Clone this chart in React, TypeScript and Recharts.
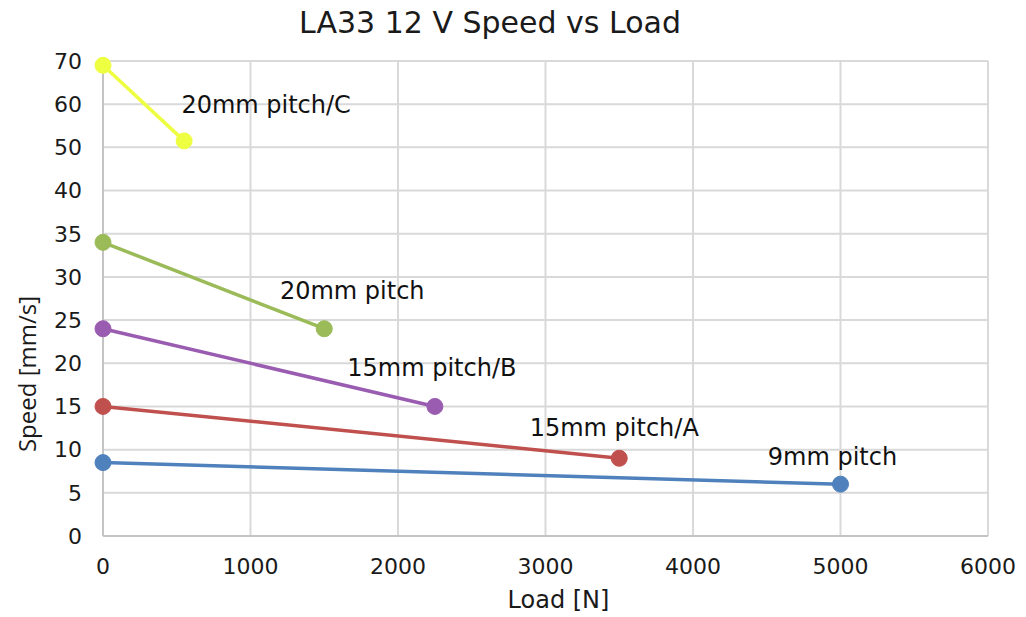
import { CartesianGrid, Label, Line, LineChart, XAxis, YAxis } from "recharts"

// load [N] and speed [mm/s]
const pitch9Load = [0, 5000]
const pitch9Speed = [8.5, 6]
const pitch15aLoad = [0, 3500]
const pitch15aSpeed = [15, 9]
const pitch15bLoad = [0, 2250]
const pitch15bSpeed = [24, 15]
const pitch20Load = [0, 1500]
const pitch20Speed = [34, 24]
const pitch20cLoad = [0, 550]
const pitch20cSpeed = [69, 51.5]

const xTicks = [0, 1000, 2000, 3000, 4000, 5000, 6000]
// the speed axis is broken: steps of 5 up to 40, then steps of 10
const yTickLabels = [0, 5, 10, 15, 20, 25, 30, 35, 40, 50, 60, 70]

const FONT = "'DejaVu Sans', 'Open Sans', sans-serif"

// maps a speed to its slot on the broken axis
const toSlot = (v: number) => (v <= 40 ? v / 5 : 8 + (v - 40) / 10)

const build = (loads: number[], speeds: number[]) =>
  loads.map((load, i) => ({ load, slot: toSlot(speeds[i]) }))

const series = [
  { name: "9mm pitch", data: build(pitch9Load, pitch9Speed), color: "#4F81BD", dx: -8, dy: -27 },
  { name: "15mm pitch/A", data: build(pitch15aLoad, pitch15aSpeed), color: "#C0504D", dx: -5, dy: -30 },
  { name: "15mm pitch/B", data: build(pitch15bLoad, pitch15bSpeed), color: "#9A5CB0", dx: -3, dy: -38 },
  { name: "20mm pitch", data: build(pitch20Load, pitch20Speed), color: "#9BBB59", dx: 28, dy: -38 },
  { name: "20mm pitch/C", data: build(pitch20cLoad, pitch20cSpeed), color: "#EEFF41", dx: 82, dy: -36 },
]

export default function App() {
  return (
    <div style={{ position: "absolute", left: 0, top: 0, width: 1026, height: 617, fontFamily: FONT }}>
      <div
        style={{
          position: "absolute",
          left: 0,
          width: 980,
          top: 5,
          textAlign: "center",
          fontSize: 30,
          color: "#1a1a1a",
        }}
      >
        LA33 12 V Speed vs Load
      </div>
      <LineChart width={1026} height={617} margin={{ top: 61, right: 38, bottom: 9, left: 0 }}>
        <CartesianGrid stroke="#d9d9d9" strokeWidth={2} />
        <XAxis
          type="number"
          dataKey="load"
          domain={[0, 6000]}
          ticks={xTicks}
          interval={0}
          height={72}
          tickLine={false}
          tickMargin={16}
          axisLine={{ stroke: "#c4c4c4", strokeWidth: 2 }}
          tick={{ fill: "#1a1a1a", fontSize: 22, fontFamily: FONT }}
        >
          <Label
            value="Load [N]"
            position="insideBottom"
            offset={0}
            dx={13}
            style={{ fill: "#1a1a1a", fontSize: 24, fontFamily: FONT }}
          />
        </XAxis>
        <YAxis
          type="number"
          domain={[0, 11]}
          ticks={yTickLabels.map((_, i) => i)}
          interval={0}
          width={103}
          tickLine={false}
          tickMargin={15}
          tickFormatter={(i: number) => `${yTickLabels[i]}`}
          axisLine={{ stroke: "#c4c4c4", strokeWidth: 2 }}
          tick={{ fill: "#1a1a1a", fontSize: 22, fontFamily: FONT }}
        >
          <Label
            content={() => (
              <text
                x={26}
                y={374}
                transform="rotate(-90, 26, 374)"
                textAnchor="middle"
                dominantBaseline="central"
                fill="#1a1a1a"
                fontSize={24}
                fontFamily="'Open Sans', sans-serif"
              >
                Speed [mm/s]
              </text>
            )}
          />
        </YAxis>
        {series.map((s) => (
          <Line
            key={s.name}
            data={s.data}
            dataKey="slot"
            name={s.name}
            stroke={s.color}
            strokeWidth={3.5}
            dot={{ r: 8, fill: s.color, stroke: s.color, strokeWidth: 1 }}
            activeDot={false}
            isAnimationActive={false}
            label={(p: any) =>
              p.index === s.data.length - 1 ? (
                <text
                  key={`lbl-${s.name}`}
                  x={p.x + s.dx}
                  y={p.y + s.dy}
                  textAnchor="middle"
                  dominantBaseline="central"
                  fill="#111"
                  fontSize={24}
                  fontFamily={FONT}
                >
                  {s.name}
                </text>
              ) : (
                <g key={`lbl-${s.name}-${p.index}`} />
              )
            }
          />
        ))}
      </LineChart>
    </div>
  )
}
